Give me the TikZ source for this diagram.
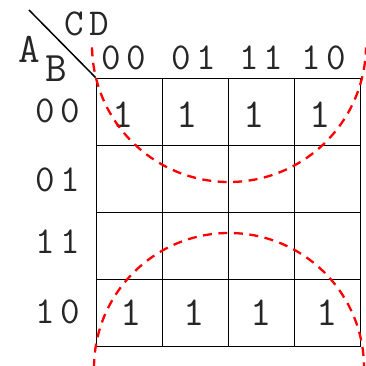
\documentclass[tikz,border=0pt]{standalone}
% two bits of a Gray code label, set apart like the original
\newcommand{\kbits}[2]{#1\hspace{5pt}#2}

\begin{document}
\begin{tikzpicture}[
    x=1pt, y=1pt,
    % Node styles
    cell/.style={
        rectangle,
        draw=black,
        line width=1.8pt,
        minimum width=66pt,
        minimum height=67pt,
        inner sep=0pt
    },
    graylabel/.style={
        font=\ttfamily\fontsize{38}{38}\selectfont,
        text=black!85,
        inner sep=0pt
    },
    varlabel/.style={
        font=\ttfamily\fontsize{42}{42}\selectfont,
        text=black!85,
        inner sep=0pt
    },
    one/.style={
        font=\ttfamily\fontsize{41}{41}\selectfont,
        text=black!85,
        inner sep=0pt
    },
    splitline/.style={
        line width=1.5pt,
        color=black
    },
    loopline/.style={
        line width=2.3pt,
        color=red,
        dash pattern=on 9pt off 6.5pt
    }
]
\useasboundingbox (0,0) rectangle (366,365);

% ===== Map cells =====

\foreach \r in {0,...,3}
    \foreach \c in {0,...,3}
        \node[cell] (c\r\c) at (129.5+66*\c, 253-67*\r) {};

% ===== Corner split and variable names =====

\coordinate (splittop) at (29,355);
\draw[splitline] (splittop) -- (c00.north west);

\node[graylabel] (cd) at (87,341) {\kbits{C}{D}};
\node[varlabel] (a) at (29,316) {A};
\node[varlabel] (b) at (56,296) {B};

% ===== Column labels (CD) =====

\node[graylabel] (col0) at (124,307.5) {\kbits{0}{0}};
\node[graylabel] (col1) at (194,307.5) {\kbits{0}{1}};
\node[graylabel] (col2) at (261.5,307.5) {\kbits{1}{1}};
\node[graylabel] (col3) at (324,307.5) {\kbits{1}{0}};

% ===== Row labels (AB) =====

\node[graylabel] (row0) at (58,254) {\kbits{0}{0}};
\node[graylabel] (row1) at (58,185.5) {\kbits{0}{1}};
\node[graylabel] (row2) at (58,123.5) {\kbits{1}{1}};
\node[graylabel] (row3) at (58,53.5) {\kbits{1}{0}};

% ===== Ones =====

\node[one] (one00) at ([shift={(-6,-3)}]c00.center) {1};
\node[one] (one01) at ([shift={(-8,-3)}]c01.center) {1};
\node[one] (one02) at ([shift={(-7,-3)}]c02.center) {1};
\node[one] (one03) at ([shift={(-7,-3)}]c03.center) {1};

\node[one] (one30) at ([shift={(2,0)}]c30.center) {1};
\node[one] (one31) at ([shift={(-1,0)}]c31.center) {1};
\node[one] (one32) at ([shift={(0,0)}]c32.center) {1};
\node[one] (one33) at ([shift={(0,0)}]c33.center) {1};

% ===== Groups (wrapping around top and bottom) =====

\coordinate (topctr) at (229,320);
\coordinate (botctr) at (229,-3);

\draw[loopline] (topctr) ++(181:137) arc[start angle=181, end angle=359, radius=137];
\draw[loopline] (botctr) ++(180:135) arc[start angle=180, end angle=0, radius=135];

\end{tikzpicture}
\end{document}
